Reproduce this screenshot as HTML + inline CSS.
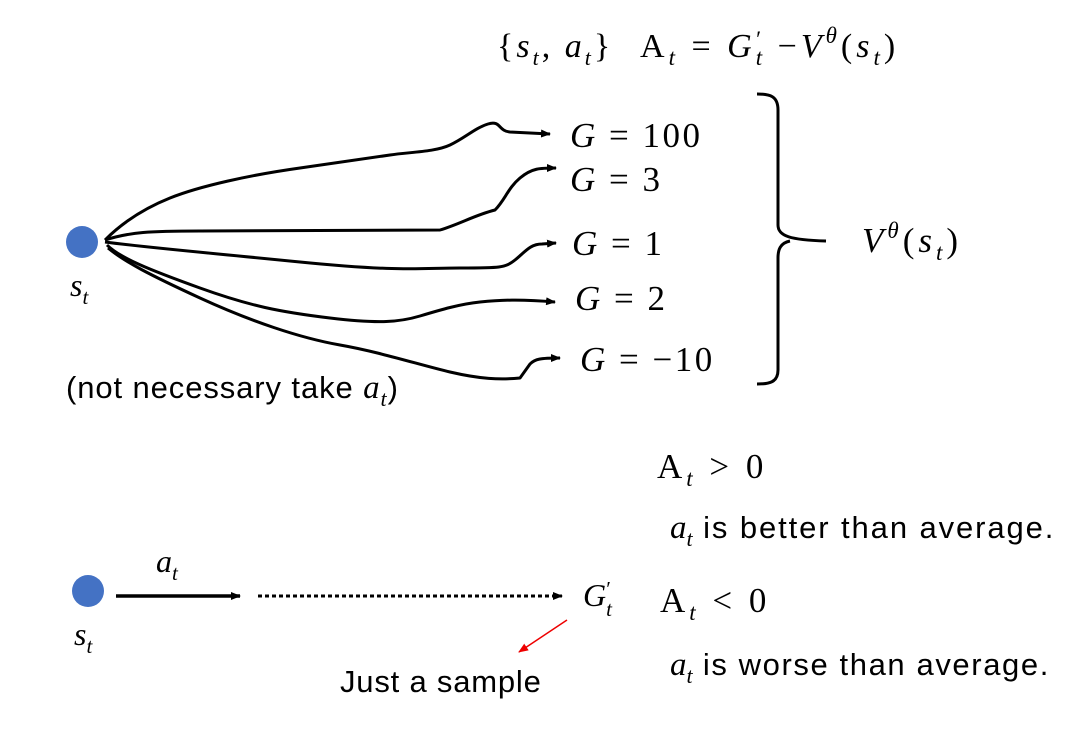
<!DOCTYPE html>
<html><head><meta charset="utf-8"><style>
body{margin:0;background:#fff;}
svg text{font-family:"Liberation Serif",serif;}
</style></head><body>
<svg width="1070" height="733" viewBox="0 0 1070 733" xmlns="http://www.w3.org/2000/svg">
<defs>
<marker id="ah" markerWidth="10" markerHeight="8" refX="9" refY="4" orient="auto" markerUnits="userSpaceOnUse"><path d="M0,0 L10,4 L0,8z" fill="#000"/></marker>
<marker id="ar" markerWidth="10" markerHeight="8" refX="9" refY="4" orient="auto" markerUnits="userSpaceOnUse"><path d="M0,0 L10,4 L0,8z" fill="#e00"/></marker>
</defs>
<g style="font-size:34px">
<text x="497" y="57" style="letter-spacing:3px"><tspan>{</tspan><tspan font-style="italic">s</tspan><tspan font-style="italic" style="font-size:22px" dy="8">t</tspan><tspan dy="-8">, </tspan><tspan font-style="italic">a</tspan><tspan font-style="italic" style="font-size:22px" dy="8">t</tspan><tspan dy="-8">}</tspan></text>
<text x="640" y="57" style="letter-spacing:4px"><tspan>A</tspan><tspan font-style="italic" style="font-size:23px" dy="8">t</tspan><tspan dy="-8"> = </tspan><tspan font-style="italic">G</tspan><tspan font-style="italic" style="font-size:23px" dy="8">t</tspan><tspan style="font-size:23px" dy="-18" dx="-10">′</tspan><tspan dy="10"> −</tspan><tspan font-style="italic">V</tspan><tspan font-style="italic" style="font-size:23px" dy="-14">θ</tspan><tspan dy="14">(</tspan><tspan font-style="italic">s</tspan><tspan font-style="italic" style="font-size:23px" dy="8">t</tspan><tspan dy="-8">)</tspan></text>
</g>

<circle cx="82" cy="242" r="16" fill="#4472c4"/>
<text x="70" y="296" style="font-size:32px" font-style="italic">s<tspan style="font-size:21px" dy="8">t</tspan></text>

<g fill="none" stroke="#000" stroke-width="3" stroke-linejoin="round">
<path marker-end="url(#ah)" d="M105,240 C120,225 140,210 170,198 S250,175 300,168 S370,158 390,155 S435,152 450,145 S475,128 488,124 S498,131 510,132 L550,134"/>
<path marker-end="url(#ah)" d="M105,240 C130,232 150,231 200,231 L440,230 C460,224 475,215 495,210 C505,200 508,188 520,178 S540,168 556,168"/>
<path marker-end="url(#ah)" d="M105,242 C150,248 200,252 300,262 S420,268 460,268 S505,268 515,260 S530,244 542,244 L556,243"/>
<path marker-end="url(#ah)" d="M107,245 C120,258 150,270 200,288 S280,312 330,318 S400,322 420,316 S460,304 480,302 S520,299 555,302"/>
<path marker-end="url(#ah)" d="M108,248 C125,262 150,275 200,298 S300,338 340,345 S420,365 450,372 S500,380 520,378 L530,364 C535,359 540,358 560,358"/>
<path d="M757,94 C770,94 778,96 778,110 L778,225 C778,236 790,240 826,241 M790,241 C780,243 778,250 778,258 L778,370 C778,382 770,384 757,384"/>
</g>

<g style="font-size:35px;letter-spacing:2.5px">
<text x="570" y="147"><tspan font-style="italic">G</tspan> = 100</text>
<text x="570" y="191"><tspan font-style="italic">G</tspan> = 3</text>
<text x="572" y="255"><tspan font-style="italic">G</tspan> = 1</text>
<text x="575" y="310"><tspan font-style="italic">G</tspan> = 2</text>
<text x="580" y="371"><tspan font-style="italic">G</tspan> = −10</text>
<text x="862" y="252" style="letter-spacing:4px"><tspan font-style="italic">V</tspan><tspan font-style="italic" style="font-size:23px" dy="-14">θ</tspan><tspan dy="14">(</tspan><tspan font-style="italic">s</tspan><tspan font-style="italic" style="font-size:23px" dy="8">t</tspan><tspan dy="-8">)</tspan></text>
</g>

<text x="66" y="398" style="font-family:'Liberation Sans',sans-serif;font-size:31px;letter-spacing:0.9px">(not necessary take <tspan style="font-family:'Liberation Serif',serif;font-size:33px" font-style="italic">a</tspan><tspan style="font-family:'Liberation Serif',serif;font-size:22px" font-style="italic" dy="8">t</tspan><tspan dy="-8">)</tspan></text>

<g style="font-size:35px;letter-spacing:4px">
<text x="657" y="478">A<tspan font-style="italic" style="font-size:23px" dy="8">t</tspan><tspan dy="-8"> &gt; 0</tspan></text>
<text x="660" y="612">A<tspan font-style="italic" style="font-size:23px" dy="8">t</tspan><tspan dy="-8"> &lt; 0</tspan></text>
</g>
<text x="670" y="538" style="font-size:33px"><tspan font-style="italic">a</tspan><tspan font-style="italic" style="font-size:22px" dy="8">t</tspan><tspan dy="-8" style="font-family:'Liberation Sans',sans-serif;font-size:31px;letter-spacing:1.9px"> is better than average.</tspan></text>
<text x="670" y="675" style="font-size:33px"><tspan font-style="italic">a</tspan><tspan font-style="italic" style="font-size:22px" dy="8">t</tspan><tspan dy="-8" style="font-family:'Liberation Sans',sans-serif;font-size:31px;letter-spacing:1.6px"> is worse than average.</tspan></text>

<circle cx="88" cy="591" r="16" fill="#4472c4"/>
<text x="74" y="645" style="font-size:32px" font-style="italic">s<tspan style="font-size:21px" dy="8">t</tspan></text>
<text x="156" y="572" style="font-size:32px" font-style="italic">a<tspan style="font-size:21px" dy="8">t</tspan></text>
<line x1="116" y1="596" x2="240" y2="596" stroke="#000" stroke-width="3.5" marker-end="url(#ah)"/>
<line x1="258" y1="596" x2="562" y2="596" stroke="#000" stroke-width="3" stroke-dasharray="4,3" marker-end="url(#ah)"/>
<text x="583" y="606" style="font-size:32px" font-style="italic">G<tspan style="font-size:21px" dy="10">t</tspan><tspan style="font-size:21px" dy="-20" dx="-7">′</tspan></text>
<line x1="567" y1="620" x2="519" y2="652" stroke="#e00" stroke-width="1.5" marker-end="url(#ar)"/>
<text x="340" y="692" style="font-family:'Liberation Sans',sans-serif;font-size:31px;letter-spacing:0.8px">Just a sample</text>
</svg>
</body></html>
